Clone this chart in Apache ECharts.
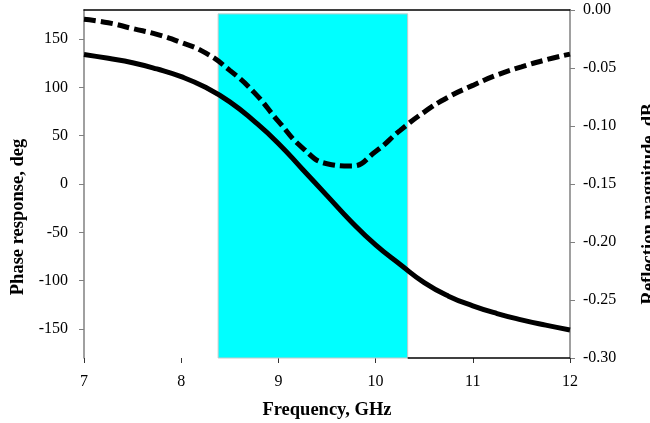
<!DOCTYPE html>
<html>
<head>
<meta charset="utf-8">
<script src="https://cdn.jsdelivr.net/npm/echarts@6/dist/echarts.min.js"></script>
<style>html,body{margin:0;padding:0;background:#fff}#c{width:650px;height:423px}</style>
</head>
<body>
<div id="c"></div>
<script>
const freq = [7.00,7.25,7.50,7.75,8.00,8.25,8.50,8.75,9.00,9.25,9.50,9.75,10.00,10.25,10.50,10.75,11.00,11.25,11.50,11.75,12.00];
const phase = [134,130,125.5,119,111,100,85,65,42,15,-12,-39,-63,-83,-102,-116,-126,-134,-140.5,-146,-151];
const reflection = [-0.008,-0.011,-0.016,-0.021,-0.028,-0.037,-0.052,-0.071,-0.096,-0.119,-0.1325,-0.1345,-0.122,-0.104,-0.088,-0.075,-0.065,-0.056,-0.049,-0.043,-0.038];
const phaseTicks = [-150,-100,-50,0,50,100,150];
const bandRange = [8.38, 10.33];

const font = 'Liberation Serif';
const chart = echarts.init(document.getElementById('c'));
chart.setOption({
  animation: false,
  grid: {left: 84, right: 80, top: 10, bottom: 65, outerBoundsMode: 'none', containLabel: false},
  xAxis: [{
    type: 'value', min: 7, max: 12, interval: 1,
    name: 'Frequency, GHz', nameLocation: 'middle', nameGap: 43,
    nameTextStyle: {fontFamily: font, fontWeight: 'bold', fontSize: 18.5, color: '#000'},
    axisLine: {show: false, onZero: false},
    axisTick: {show: true, length: 5, lineStyle: {color: '#333'}},
    axisLabel: {fontFamily: font, fontSize: 16, color: '#000', margin: 16},
    splitLine: {show: false}
  }, {
    type: 'value', min: 7, max: 12, position: 'top',
    axisLine: {show: true, onZero: false, lineStyle: {color: '#000', width: 1.5}},
    axisTick: {show: false}, axisLabel: {show: false}, splitLine: {show: false}
  }],
  yAxis: [{
    type: 'value', min: -180, max: 180,
    name: 'Phase response, deg', nameLocation: 'middle', nameGap: 55, nameRotate: 90,
    nameTextStyle: {fontFamily: font, fontWeight: 'bold', fontSize: 18.5, color: '#000', padding: [0, 66, 0, 0]},
    axisLine: {show: true, lineStyle: {color: '#808080', width: 1.5}},
    axisTick: {show: true, length: 5, inside: false, customValues: phaseTicks, lineStyle: {color: '#808080'}},
    axisLabel: {fontFamily: font, fontSize: 16, color: '#000', margin: 16, customValues: phaseTicks},
    splitLine: {show: false}
  }, {
    type: 'value', min: -0.30, max: 0, interval: 0.05, position: 'right',
    name: 'Reflection magnitude, dB', nameLocation: 'middle', nameGap: 70, nameRotate: 90,
    nameTextStyle: {fontFamily: font, fontWeight: 'bold', fontSize: 18.5, color: '#000', padding: [0, 40, 0, 0]},
    axisLine: {show: true, lineStyle: {color: '#808080', width: 1.5}},
    axisTick: {show: true, length: 5, lineStyle: {color: '#808080'}},
    axisLabel: {fontFamily: font, fontSize: 16, color: '#000', margin: 13,
      formatter: v => v.toFixed(2)},
    splitLine: {show: false}
  }],
  series: [{
    type: 'line', data: [], z: 1, silent: true,
    markArea: {
      silent: true,
      itemStyle: {color: '#00ffff', borderColor: '#c8c8c8', borderWidth: 1},
      data: [[{xAxis: bandRange[0], yAxis: -180}, {xAxis: bandRange[1], yAxis: 176}]]
    },
    markLine: {
      silent: true, symbol: 'none', label: {show: false},
      lineStyle: {color: '#000', type: 'solid', width: 1.5},
      data: [[{coord: [bandRange[1], -180]}, {coord: [12, -180]}]]
    }
  }, {
    name: 'Phase', type: 'line', z: 3, yAxisIndex: 0, smooth: true, symbol: 'none',
    data: freq.map((f, i) => [f, phase[i]]),
    lineStyle: {color: '#000', width: 5}
  }, {
    name: 'Reflection', type: 'line', z: 3, yAxisIndex: 1, smooth: true, symbol: 'none',
    data: freq.map((f, i) => [f, reflection[i]]),
    lineStyle: {color: '#000', width: 5, type: [12, 5]}
  }]
});
</script>
</body>
</html>
